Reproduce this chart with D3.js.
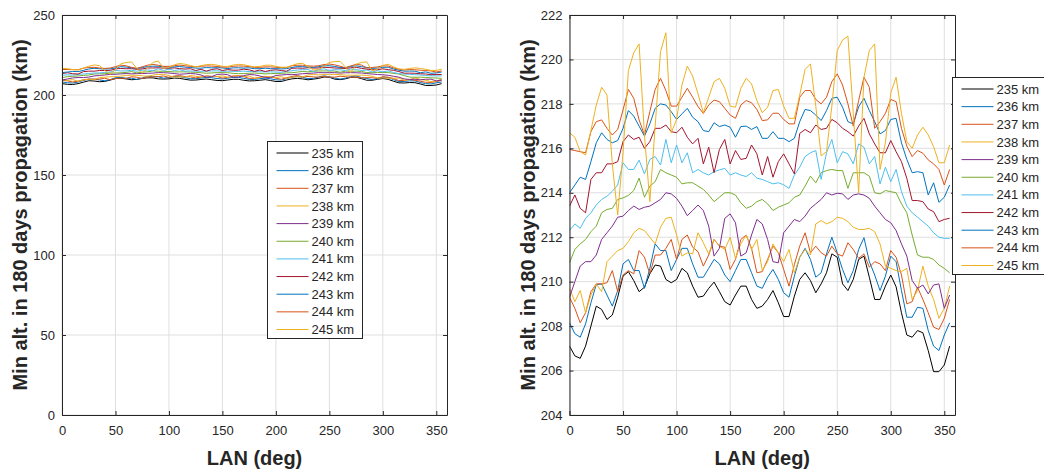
<!DOCTYPE html>
<html>
<head>
<meta charset="utf-8">
<script src="https://cdn.jsdelivr.net/npm/d3@7"></script>
<style>
  body { margin: 0; background: #fff; }
  text { font-family: "Liberation Sans", Arial, sans-serif; fill: #262626; }
</style>
</head>
<body>
<div id="chart"></div>
<script>
// LAN values (deg)
var lan = [0,5,10,15,20,25,30,35,40,45,50,55,60,65,70,75,80,85,90,95,100,105,110,115,
  120,125,130,135,140,145,150,155,160,165,170,175,180,185,190,195,200,205,210,215,220,225,230,235,
  240,245,250,255,260,265,270,275,280,285,290,295,300,305,310,315,320,325,330,335,340,345,350,355];

var labels = ["235 km","236 km","237 km","238 km","239 km","240 km","241 km","242 km","243 km","244 km","245 km"];
var colors = ["#000000","#0072BD","#D95319","#EDB120","#7E2F8E","#77AC30","#4DBEEE","#A2142F","#0072BD","#D95319","#EDB120"];

// min altitude after 180 days (km), one array per initial altitude
var alt235 = [207.1,206.66,206.55,207.1,208.0,208.9,208.75,208.3,208.5,209.3,210.25,210.45,210.05,209.55,209.75,210.35,210.75,210.7,210.1,209.95,210.1,210.6,210.4,209.8,
  209.3,209.35,209.7,209.98,209.55,209.1,208.95,209.4,209.8,209.8,209.2,208.8,208.9,209.2,209.6,209.05,208.43,208.43,209.35,210.1,210.4,210.05,209.5,209.9,
  210.4,211.25,211.1,209.9,209.6,210.1,211.0,211.15,210.2,209.2,209.2,209.8,210.3,209.77,208.6,207.6,207.5,207.8,207.7,206.9,205.95,205.95,206.25,207.1];
var alt236 = [208.15,207.66,207.5,208.1,209.05,209.87,209.9,209.4,208.9,209.6,210.8,211.0,210.5,210.5,209.7,210.6,211.7,211.4,211.4,210.5,211.0,211.5,211.5,210.8,
  210.2,210.2,210.6,211.0,210.8,210.3,210.0,210.5,211.0,211.0,210.4,209.8,209.7,210.2,210.55,210.1,209.5,209.3,210.25,211.1,211.5,211.0,210.2,210.4,
  211.25,212.0,211.3,210.55,209.95,210.5,211.45,211.98,210.9,210.3,209.6,210.25,211.15,210.9,209.6,208.4,208.4,208.85,208.8,207.8,207.1,206.9,207.6,208.15];
var alt237 = [209.3,208.8,208.15,208.6,209.55,209.9,209.9,209.95,210.5,209.55,210.3,210.5,210.35,211.4,211.1,210.35,211.2,211.2,211.5,211.9,211.0,211.9,212.1,211.55,
  211.35,210.7,211.2,211.9,211.6,211.55,210.55,211.0,211.9,212.1,211.5,210.4,210.45,211.0,211.6,211.3,210.55,209.8,210.77,211.6,212.2,211.3,211.6,211.3,
  211.15,211.6,211.25,211.15,211.75,211.45,211.05,211.25,210.65,210.9,210.8,210.5,211.4,211.1,210.3,209.0,209.1,209.75,209.2,208.6,207.95,207.85,208.35,209.2];
var alt238 = [209.7,209.1,209.6,208.6,209.4,209.9,209.55,210.9,211.15,211.4,211.5,211.8,212.2,212.4,212.3,212.0,211.7,212.45,212.85,212.9,212.1,211.15,211.3,211.25,
  212.2,211.75,211.25,211.9,211.6,211.45,212.0,211.05,211.7,212.1,211.45,211.9,210.5,210.9,211.7,211.3,210.9,211.45,210.4,211.1,211.45,211.2,212.6,212.75,
  212.6,212.7,212.9,212.85,212.7,212.45,212.35,212.35,212.4,212.25,211.7,210.7,210.6,210.5,210.45,210.6,209.2,209.6,210.7,209.8,209.2,208.35,208.8,209.8];
var alt239 = [209.3,210.0,210.7,210.9,210.9,211.2,211.9,212.2,212.5,212.9,212.95,213.2,213.4,213.25,213.35,213.4,213.55,213.7,214.0,213.95,213.75,213.4,212.97,213.2,
  213.45,213.2,212.5,211.15,211.5,212.85,213.05,212.65,211.15,211.3,212.1,212.8,212.6,211.9,210.9,210.85,212.2,212.5,212.8,212.7,212.95,213.3,213.5,213.7,
  214.0,213.9,213.98,213.95,213.7,213.9,213.95,213.9,213.75,213.4,213.1,212.8,212.65,212.3,211.7,211.15,210.05,209.7,209.85,209.45,209.85,209.9,208.8,209.4];
var alt240 = [210.85,211.45,211.7,211.9,212.25,212.5,213.1,213.25,213.3,213.7,213.77,213.88,214.1,214.66,213.8,214.3,214.5,215.05,214.9,214.8,214.7,214.4,214.45,214.45,
  214.3,214.15,213.9,213.6,213.8,214.0,214.0,213.9,213.55,213.3,213.4,213.6,213.7,213.5,213.2,213.35,213.45,213.55,213.8,213.9,214.3,214.75,214.45,214.9,
  215.0,215.05,215.0,215.0,214.2,214.9,214.9,214.9,214.75,214.0,213.95,214.1,214.05,214.0,213.5,213.1,212.1,211.2,211.1,211.1,211.0,210.75,210.6,210.4];
var alt241 = [212.3,212.6,212.4,212.85,213.1,213.45,213.7,213.84,214.07,214.35,215.35,215.05,215.05,215.47,214.85,215.5,215.63,215.25,216.4,215.35,216.15,215.35,215.8,214.9,
  215.05,214.9,214.8,214.95,215.03,215.1,214.8,214.9,214.8,214.73,214.9,214.66,214.6,214.5,214.4,214.45,214.36,214.2,214.8,215.15,215.63,215.8,215.9,214.6,
  215.8,216.4,215.35,215.85,215.75,215.3,216.2,216.05,215.3,215.63,214.4,215.15,214.5,215.05,214.05,213.4,213.1,212.9,212.7,212.5,212.2,212.0,211.95,211.95];
var alt242 = [213.4,213.9,213.3,213.1,214.6,214.9,214.9,215.3,215.3,215.4,216.3,216.6,216.4,216.5,216.0,216.3,216.9,216.9,217.05,216.75,216.7,216.95,216.5,216.2,
  216.45,215.3,216.05,214.9,215.95,216.4,215.3,215.9,215.5,215.55,216.15,215.75,214.8,215.63,214.7,215.4,215.75,215.3,214.85,216.67,216.85,216.7,217.05,216.85,
  216.9,217.3,217.15,216.9,216.75,216.55,217.0,217.35,216.65,216.2,215.8,215.8,216.35,215.85,215.4,214.65,213.65,213.65,213.6,213.27,213.15,212.7,212.8,212.85];
var alt243 = [214.0,214.35,214.7,214.6,215.4,216.25,216.7,216.4,216.25,216.35,216.9,217.7,217.45,217.0,216.55,217.1,217.8,218.0,217.95,217.65,217.3,217.55,217.8,217.4,
  217.2,216.8,216.75,217.15,216.98,217.05,216.95,216.5,216.98,217.0,216.85,216.98,216.45,216.45,216.75,216.45,216.45,216.3,216.45,217.2,217.75,217.7,217.5,217.25,
  217.7,218.25,218.3,217.85,217.2,217.1,217.87,218.25,217.7,217.2,216.65,216.8,217.3,217.35,216.25,215.5,214.9,214.95,214.9,213.9,214.45,213.57,213.8,214.35];
var alt244 = [215.95,215.9,215.85,215.8,216.75,217.2,217.28,216.9,216.6,216.85,217.73,218.65,218.25,217.28,216.6,217.65,218.65,219.15,218.6,217.9,217.9,218.3,218.7,218.3,
  217.88,217.57,217.95,218.17,218.1,217.8,217.5,217.35,217.95,218.15,218.05,217.75,217.25,217.28,217.58,217.58,217.3,217.1,217.1,218.3,218.6,218.6,218.2,218.0,
  218.3,219.0,219.35,218.85,218.0,217.0,218.15,219.2,218.75,216.9,217.2,217.57,218.2,218.1,216.9,216.1,215.63,215.9,215.78,215.48,215.3,215.05,214.35,215.05];
var alt245 = [216.7,216.5,215.85,215.7,216.8,217.95,218.75,218.4,215.3,213.0,215.8,219.5,220.3,220.7,216.6,213.6,217.0,220.35,221.2,216.7,217.3,218.85,219.7,219.25,
  218.45,217.6,218.3,219.0,219.15,218.7,217.9,217.85,218.7,219.15,218.9,218.15,217.6,217.85,218.6,218.65,217.9,217.35,217.35,218.4,219.55,219.8,217.9,215.66,
  215.85,217.9,220.4,220.87,221.05,217.57,214.0,219.2,220.4,220.7,215.05,216.25,218.5,219.2,217.57,216.3,216.0,216.6,216.95,216.6,216.08,215.35,215.35,216.15];

var series = [alt235, alt236, alt237, alt238, alt239, alt240, alt241, alt242, alt243, alt244, alt245];

var leftTicksY = [0, 50, 100, 150, 200, 250];
var rightTicksY = [204, 206, 208, 210, 212, 214, 216, 218, 220, 222];
var ticksX = [0, 50, 100, 150, 200, 250, 300, 350];

var svg = d3.select("#chart")
  .append("svg")
    .attr("width", 1044)
    .attr("height", 470);

// draw one MATLAB-like subplot
function drawPanel(box, yDomain, yTicks, legendPos) {
  var x = d3.scaleLinear().domain([0, 360]).range([box.left, box.right]);
  var y = d3.scaleLinear().domain(yDomain).range([box.bottom, box.top]);
  var g = svg.append("g");

  // grid
  g.selectAll(".gx").data(ticksX).enter().append("line")
    .attr("x1", function(d) { return x(d); }).attr("x2", function(d) { return x(d); })
    .attr("y1", box.top).attr("y2", box.bottom)
    .style("stroke", "#dfdfdf").style("stroke-width", 1);
  g.selectAll(".gy").data(yTicks).enter().append("line")
    .attr("x1", box.left).attr("x2", box.right)
    .attr("y1", function(d) { return y(d); }).attr("y2", function(d) { return y(d); })
    .style("stroke", "#dfdfdf").style("stroke-width", 1);

  // lines
  var clipId = "clip" + Math.round(box.left);
  svg.append("clipPath").attr("id", clipId).append("rect")
    .attr("x", box.left).attr("y", box.top)
    .attr("width", box.right - box.left).attr("height", box.bottom - box.top);
  var line = d3.line()
    .x(function(d, i) { return x(lan[i]); })
    .y(function(d) { return y(d); });
  g.append("g").attr("clip-path", "url(#" + clipId + ")")
    .selectAll("path").data(series).enter().append("path")
    .attr("d", line)
    .style("fill", "none")
    .style("stroke", function(d, i) { return colors[i]; })
    .style("stroke-width", 1);

  // axes, ticks pointing inward
  g.append("g")
    .attr("transform", "translate(0," + box.bottom + ")")
    .call(d3.axisBottom(x).tickValues(ticksX).tickSizeInner(-4).tickSizeOuter(0).tickPadding(11));
  g.append("g")
    .attr("transform", "translate(" + box.left + ",0)")
    .call(d3.axisLeft(y).tickValues(yTicks).tickSizeInner(-4).tickSizeOuter(0).tickPadding(7));
  g.append("g")
    .attr("transform", "translate(0," + box.top + ")")
    .call(d3.axisTop(x).tickValues(ticksX).tickSizeInner(-4).tickSizeOuter(0).tickFormat(""));
  g.append("g")
    .attr("transform", "translate(" + box.right + ",0)")
    .call(d3.axisRight(y).tickValues(yTicks).tickSizeInner(-4).tickSizeOuter(0).tickFormat(""));
  g.selectAll(".domain, .tick line").style("stroke", "#262626");
  g.selectAll(".tick text").style("font-size", "13px").style("fill", "#262626")
    .style("font-family", "'Liberation Sans', Arial, sans-serif");

  // axis titles
  g.append("text")
    .attr("text-anchor", "middle")
    .attr("x", (box.left + box.right) / 2)
    .attr("y", 465)
    .style("font-size", "20px").style("font-weight", "bold")
    .text("LAN (deg)");
  g.append("text")
    .attr("text-anchor", "middle")
    .attr("transform", "translate(" + (box.left - 42) + "," + ((box.top + box.bottom) / 2) + ") rotate(-90)")
    .attr("dy", "0.35em")
    .style("font-size", "20px").style("font-weight", "bold")
    .text("Min alt. in 180 days propagation (km)");

  // legend
  var lg = g.append("g").attr("transform", "translate(" + legendPos.x + "," + legendPos.y + ")");
  lg.append("rect")
    .attr("width", legendPos.w).attr("height", legendPos.h)
    .style("fill", "#fff").style("stroke", "#262626").style("stroke-width", 1);
  var rows = lg.selectAll(".row").data(labels).enter().append("g")
    .attr("transform", function(d, i) { return "translate(0," + (11.5 + i * 17.65) + ")"; });
  rows.append("line")
    .attr("x1", 9).attr("x2", 41)
    .style("stroke", function(d, i) { return colors[i]; })
    .style("stroke-width", 1);
  rows.append("text")
    .attr("x", 44).attr("dy", "0.35em")
    .style("font-size", "13px")
    .text(function(d) { return d; });
}

drawPanel({left: 62, right: 447, top: 15, bottom: 415}, [0, 250], leftTicksY,
  {x: 267.5, y: 141.5, w: 95, h: 197});
drawPanel({left: 569.5, right: 955, top: 15, bottom: 415}, [204, 222], rightTicksY,
  {x: 952.5, y: 77.5, w: 100, h: 197});
</script>
</body>
</html>
